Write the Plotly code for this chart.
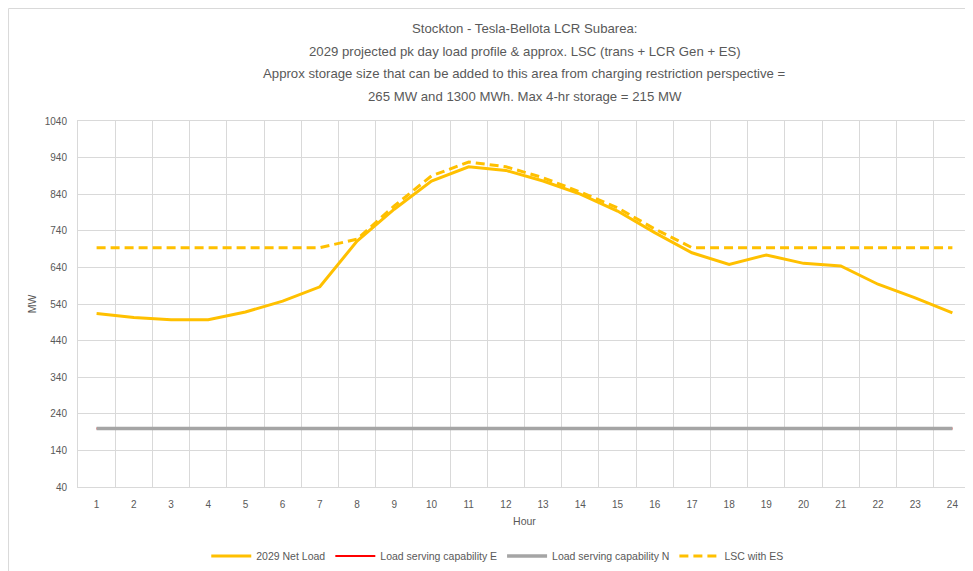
import plotly.graph_objects as go

hours = [str(h) for h in range(1, 25)]
net_load = [514, 503, 497, 497, 518, 548, 587, 712, 799, 876, 915, 905,
            876, 840, 794, 735, 680, 648, 674, 651, 644, 594, 557, 516]
lsc_e = [200] * 24
lsc_n = [200] * 24
lsc_es = [694, 694, 694, 694, 694, 694, 694, 717, 808, 890, 928, 915,
          885, 846, 803, 745, 694, 694, 694, 694, 694, 694, 694, 694]
y_ticks = list(range(40, 1041, 100))
title_lines = [
    "Stockton - Tesla-Bellota LCR Subarea:",
    "2029 projected pk day load profile &amp; approx. LSC (trans + LCR Gen + ES)",
    "Approx storage size that can be added to this area from charging restriction perspective =",
    "265 MW and 1300 MWh. Max 4-hr storage = 215 MW",
]

FONT = "Liberation Sans"
TXT = "#595959"

fig = go.Figure()
fig.add_trace(go.Scatter(x=hours, y=net_load, name="2029 Net Load", mode="lines",
                         line=dict(color="#FFC000", width=3)))
fig.add_trace(go.Scatter(x=hours, y=lsc_e, name="Load serving capability E", mode="lines",
                         line=dict(color="#FF0000", width=2)))
fig.add_trace(go.Scatter(x=hours, y=lsc_n, name="Load serving capability N", mode="lines",
                         line=dict(color="#A5A5A5", width=3.5)))
fig.add_trace(go.Scatter(x=hours, y=lsc_es, name="LSC with ES", mode="lines",
                         line=dict(color="#FFC000", width=3, dash="9px,5px")))

# page body has an 8px margin; positions below are in figure pixels
OFF = 8
W, H = 973, 571
L, R, T, B = 70, 9.5, 113, 92
pw, ph = W - L - R, H - T - B

def py(screen_y):
    return (H - B - (screen_y - OFF)) / ph

line_y = [28, 51, 73, 96]
annotations = [dict(text=t, x=0.5, xref="paper", xanchor="center",
                    y=py(yy), yref="paper", yanchor="middle",
                    showarrow=False, font=dict(family=FONT, size=13.2, color=TXT))
               for t, yy in zip(title_lines, line_y)]

fig.update_layout(
    width=W, height=H,
    margin=dict(l=L, r=R, t=T, b=B, autoexpand=False),
    paper_bgcolor="white", plot_bgcolor="white",
    font=dict(family=FONT, color=TXT, size=10),
    showlegend=True,
    legend=dict(orientation="h", x=(498 - OFF - L) / pw, xanchor="center", xref="paper",
                y=py(556), yanchor="middle",
                font=dict(family=FONT, size=10.5, color=TXT), itemwidth=40,
                traceorder="normal"),
    xaxis=dict(type="category", tickson="boundaries", range=[-0.5, 23.5],
               showgrid=True, gridcolor="#D9D9D9",
               gridwidth=1, showline=True, linecolor="#D9D9D9", mirror=True, ticks="",
               ticklabelstandoff=8,
               title=dict(text="Hour", font=dict(family=FONT, size=10.5, color=TXT), standoff=8),
               tickfont=dict(family=FONT, size=10, color=TXT)),
    yaxis=dict(range=[40, 1040], tickvals=y_ticks, showgrid=True, gridcolor="#D9D9D9",
               gridwidth=1, showline=True, linecolor="#D9D9D9", mirror=True, ticks="",
               zeroline=False, ticklabelstandoff=8,
               title=dict(text="MW", font=dict(family=FONT, size=10.5, color=TXT), standoff=6),
               tickfont=dict(family=FONT, size=10, color=TXT)),
    annotations=annotations,
    shapes=[dict(type="rect", xref="paper", yref="paper",
                 x0=(0.5 - L) / pw, x1=(990 - L) / pw,
                 y0=(H - B - 590) / ph, y1=(H - B - 0.5) / ph,
                 line=dict(color="#D9D9D9", width=1), fillcolor="rgba(0,0,0,0)", layer="below")],
)

fig.write_html("out.html")
